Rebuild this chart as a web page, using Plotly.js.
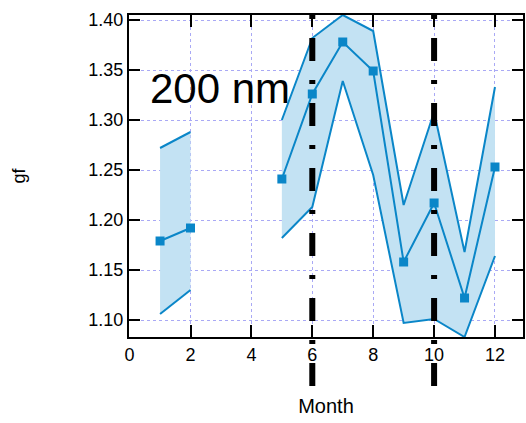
<!DOCTYPE html>
<html>
<head>
<meta charset="utf-8">
<script src="https://cdn.plot.ly/plotly-3.0.1.min.js"></script>
<style>
  html, body { margin: 0; padding: 0; background: #fff; }
  #chart { width: 526px; height: 423px; }
</style>
</head>
<body>
<div id="chart"></div>
<script>
// Monthly gf values (200 nm) with upper/lower envelope; months 3 and 4 have no data
const months = [1, 2, 3, 4, 5, 6, 7, 8, 9, 10, 11, 12];
const gfMean  = [1.179, 1.192, null, null, 1.241, 1.326, 1.378, 1.349, 1.158, 1.217, 1.122, 1.253];
const gfUpper = [1.272, 1.288, null, null, 1.300, 1.382, 1.405, 1.389, 1.215, 1.308, 1.168, 1.333];
const gfLower = [1.106, 1.130, null, null, 1.182, 1.213, 1.339, 1.245, 1.097, 1.101, 1.083, 1.164];
const markedMonths = [6, 10];
const xTicks = [0, 2, 4, 6, 8, 10, 12];
const yTicks = [1.10, 1.15, 1.20, 1.25, 1.30, 1.35, 1.40];
const sizeLabel = '200 nm';

const lineBlue = '#0a86c8';
const bandFill = '#c3e2f3';
const font = 'Liberation Sans, Arial, Helvetica, sans-serif';

// Split the months into runs without gaps, so each run gets its own shaded band
function runs() {
  const out = [];
  let cur = [];
  months.forEach((m, i) => {
    if (gfUpper[i] === null || gfLower[i] === null) {
      if (cur.length) { out.push(cur); cur = []; }
    } else {
      cur.push(i);
    }
  });
  if (cur.length) out.push(cur);
  return out;
}

const traces = [];
runs().forEach(idx => {
  const xs = idx.map(i => months[i]);
  const up = idx.map(i => gfUpper[i]);
  const lo = idx.map(i => gfLower[i]);
  traces.push({
    type: 'scatter', mode: 'none',
    x: xs.concat(xs.slice().reverse()),
    y: up.concat(lo.slice().reverse()),
    fill: 'toself', fillcolor: bandFill,
    hoverinfo: 'skip', showlegend: false
  });
});

traces.push({
  type: 'scatter', mode: 'lines', x: months, y: gfUpper,
  line: { color: lineBlue, width: 2 }, connectgaps: false, showlegend: false
});
traces.push({
  type: 'scatter', mode: 'lines', x: months, y: gfLower,
  line: { color: lineBlue, width: 2 }, connectgaps: false, showlegend: false
});
traces.push({
  type: 'scatter', mode: 'lines+markers', x: months, y: gfMean,
  line: { color: lineBlue, width: 2 }, connectgaps: false,
  marker: { symbol: 'square', size: 9, color: lineBlue },
  showlegend: false
});

// Thick dash-dot markers at the highlighted months, running below the axis
const shapes = markedMonths.map(m => ({
  type: 'line', xref: 'x', yref: 'paper',
  x0: m, x1: m, y0: 1, y1: -0.171,
  line: { color: '#000', width: 6, dash: '4px,19px,23px,19px' },
  layer: 'above'
}));

const axisCommon = {
  showline: true, linecolor: '#000', linewidth: 2, mirror: 'ticks',
  ticks: 'inside', tickcolor: '#000', tickwidth: 2,
  showgrid: true, gridcolor: '#a9a9f5', gridwidth: 1, griddash: 'dot',
  zeroline: false,
  tickfont: { family: font, size: 18, color: '#000' }
};

const layout = {
  width: 526, height: 423,
  margin: { l: 129, r: 3, t: 15, b: 86 },
  paper_bgcolor: '#fff', plot_bgcolor: '#fff',
  showlegend: false,
  xaxis: Object.assign({}, axisCommon, {
    range: [-0.02, 12.92],
    tickmode: 'array', tickvals: xTicks, ticktext: xTicks.map(String),
    ticklen: 12,
    title: { text: 'Month', font: { family: font, size: 20, color: '#000' }, standoff: 35 }
  }),
  yaxis: Object.assign({}, axisCommon, {
    range: [1.083, 1.405],
    tickmode: 'array', tickvals: yTicks, ticktext: yTicks.map(v => v.toFixed(2)),
    ticklen: 11,
    title: { text: 'gf', font: { family: font, size: 18, color: '#000' }, standoff: 58 }
  }),
  shapes: shapes,
  annotations: [{
    text: sizeLabel, xref: 'x', yref: 'y', x: 0.6, y: 1.332,
    xanchor: 'left', yanchor: 'middle', showarrow: false,
    font: { family: font, size: 42, color: '#000' }
  }]
};

Plotly.newPlot('chart', traces, layout, { displayModeBar: false, staticPlot: true });
</script>
</body>
</html>
